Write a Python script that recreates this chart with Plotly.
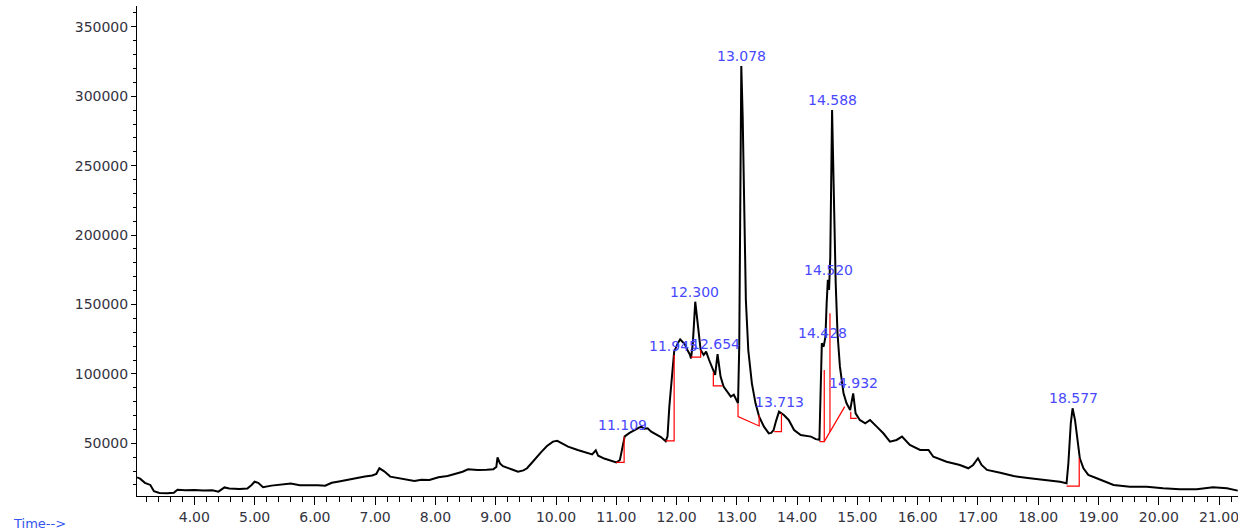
import plotly.graph_objects as go

# Total ion chromatogram (time in min, abundance)
time_min = [3.05, 3.10, 3.18, 3.27, 3.33, 3.42, 3.55, 3.66, 3.72, 3.85, 4.00, 4.15, 4.30, 4.40, 4.50,
            4.58, 4.75, 4.88, 4.95, 5.00, 5.06, 5.14, 5.28, 5.45, 5.60, 5.75, 5.90, 6.05, 6.17, 6.28,
            6.40, 6.56, 6.70, 6.83, 6.95, 7.02, 7.07, 7.15, 7.25, 7.38, 7.50, 7.65, 7.77, 7.90, 8.05,
            8.20, 8.32, 8.45, 8.54, 8.70, 8.85, 8.96, 9.01, 9.03, 9.07, 9.12, 9.26, 9.37, 9.46, 9.52,
            9.60, 9.66, 9.75, 9.85, 9.95, 10.02, 10.08, 10.20, 10.36, 10.50, 10.60, 10.66, 10.70, 10.80,
            10.88, 11.00, 11.06, 11.10, 11.14, 11.22, 11.30, 11.41, 11.47, 11.52, 11.58, 11.66, 11.74,
            11.82, 11.85, 11.88, 11.92, 11.96, 12.02, 12.06, 12.10, 12.13, 12.18, 12.22, 12.24, 12.27,
            12.31, 12.35, 12.40, 12.45, 12.49, 12.54, 12.60, 12.64, 12.68, 12.73, 12.78, 12.84, 12.90,
            12.95, 13.00, 13.02, 13.04, 13.06, 13.074, 13.097, 13.12, 13.15, 13.19, 13.25, 13.31, 13.37,
            13.45, 13.53, 13.57, 13.61, 13.65, 13.70, 13.78, 13.86, 13.95, 14.06, 14.23, 14.31, 14.37,
            14.40, 14.41, 14.44, 14.47, 14.49, 14.51, 14.53, 14.55, 14.58, 14.61, 14.64, 14.67, 14.71,
            14.77, 14.82, 14.88, 14.93, 14.97, 15.04, 15.13, 15.21, 15.32, 15.43, 15.54, 15.65, 15.74,
            15.87, 16.04, 16.18, 16.26, 16.48, 16.70, 16.84, 16.92, 17.00, 17.06, 17.15, 17.37, 17.59,
            17.86, 18.14, 18.36, 18.47, 18.50, 18.54, 18.57, 18.61, 18.66, 18.69, 18.75, 18.83, 18.97,
            19.25, 19.52, 19.80, 20.07, 20.35, 20.63, 20.90, 21.13, 21.31]
abundance = [25500, 24500, 21500, 20000, 15500, 14200, 14000, 14300, 16500, 16200, 16400, 16000, 16200, 15200, 18200,
             17500, 17000, 17400, 20000, 22300, 21500, 18400, 19500, 20200, 21000, 19800, 20000, 19800, 19500, 21600,
             22500, 24000, 25000, 26000, 26800, 28000, 32000, 29800, 26000, 24800, 24000, 22800, 23800, 23500, 25500,
             26500, 27900, 29500, 31300, 30800, 31000, 31300, 33000, 39900, 35500, 33500, 31300, 29500, 30500, 32000,
             36000, 39200, 43500, 48000, 51200, 51800, 50400, 47600, 45200, 43000, 42000, 45000, 41000, 39000,
             38000, 36200, 38000, 48000, 55000, 57500, 59600, 62000, 60500, 60800, 58400, 56500, 54500,
             51500, 55000, 76400, 95000, 116000, 122000, 124900, 123000, 122000, 117200, 114000, 111200, 122000,
             152000, 136400, 117200, 113600, 116000, 110000, 104000, 99200, 114300, 98000, 90800, 87200, 83600,
             85000, 81000, 78800, 120000, 250000, 321800, 285000, 213000, 153000, 117000, 93000, 78800, 69200,
             62000, 57200, 57500, 59500, 66000, 72800, 70400, 66800, 59600, 56000, 54800, 53000, 52500,
             93200, 122000, 119600, 126800, 150900, 167700, 160500, 184400, 290100, 225300, 165300, 129300, 105200,
             86000, 78800, 74000, 86000, 71600, 66800, 64400, 66800, 62000, 57200, 51200, 52400, 54800,
             48800, 45200, 45200, 40300, 36700, 34400, 32000, 34400, 39200, 34400, 30800, 28800, 26400,
             24800, 23600, 22300, 21200, 35600, 64400, 75200, 66800, 50000, 39200, 32000, 27200, 24800,
             20000, 18700, 18700, 17600, 16900, 16900, 18300, 17600, 15900]

# Integration baselines / drop lines (None separates segments)
base_t = [11.00, 11.13, 11.13, None,
          11.82, 11.96, 11.96, None,
          12.24, 12.40, 12.40, None,
          12.61, 12.61, 12.76, None,
          13.02, 13.02, 13.37, 13.37, None,
          13.62, 13.74, 13.74, None,
          14.37, 14.45, 14.45, None,
          14.45, 14.79, None,
          14.545, 14.545, None,
          14.89, 14.89, 14.99, None,
          18.47, 18.68, 18.68]
base_v = [36200, 36200, 54800, None,
          51700, 51700, 113600, None,
          112000, 112000, 117200, None,
          101000, 91300, 91300, None,
          78300, 69200, 62500, 70400, None,
          58400, 58400, 71600, None,
          51200, 51200, 102800, None,
          51200, 76400, None,
          58200, 143700, None,
          72800, 68000, 68000, None,
          19200, 19200, 39200]

# Peak retention-time labels
peak_rt = [11.109, 11.945, 12.300, 12.654, 13.078, 13.713, 14.428, 14.520, 14.588, 14.932, 18.577]
peak_height = [56000, 113000, 152000, 114100, 321800, 72800, 122000, 167700, 290100, 86000, 75200]

fig = go.Figure()
fig.add_trace(go.Scatter(x=time_min, y=abundance, mode="lines",
                         line=dict(color="black", width=2), hoverinfo="skip"))
fig.add_trace(go.Scatter(x=base_t, y=base_v, mode="lines", connectgaps=False,
                         line=dict(color="#ff0000", width=1.2), hoverinfo="skip"))

for rt, h in zip(peak_rt, peak_height):
    fig.add_annotation(x=rt, y=h, text=f"{rt:.3f}", showarrow=False,
                       xanchor="center", yanchor="bottom", yshift=0,
                       font=dict(family="DejaVu Sans", size=14, color="#4848ff"))

fig.add_annotation(xref="paper", yref="paper", x=-0.1144, y=-0.037,
                   xanchor="left", yanchor="top", text="Time-->", showarrow=False,
                   font=dict(family="DejaVu Sans", size=13, color="#3355ee"))

tickfont = dict(family="DejaVu Sans", size=14, color="#333340")
fig.update_layout(
    width=1238, height=528,
    margin=dict(l=137, r=0, t=6, b=32),
    paper_bgcolor="white", plot_bgcolor="white",
    showlegend=False,
    xaxis=dict(range=[3.049, 21.314], tick0=0, dtick=1, tickformat=".2f",
               showgrid=False, zeroline=False, showline=True, linecolor="black", linewidth=1,
               ticks="outside", ticklen=8, tickcolor="black", tickfont=tickfont,
               ticklabeloverflow="allow",
               minor=dict(dtick=0.2, tick0=0, ticks="outside", ticklen=5, tickcolor="black", showgrid=False)),
    yaxis=dict(range=[12030, 365000], tick0=0, dtick=50000, tickformat="d",
               showgrid=False, zeroline=False, showline=True, linecolor="black", linewidth=1,
               ticks="outside", ticklen=5, tickcolor="black", tickfont=tickfont,
               minor=dict(dtick=10000, tick0=0, ticks="outside", ticklen=3, tickcolor="black", showgrid=False)),
)

fig.write_html("out.html", config={"displayModeBar": False},
               post_script="document.body.style.margin='0';document.body.style.overflow='hidden';")
